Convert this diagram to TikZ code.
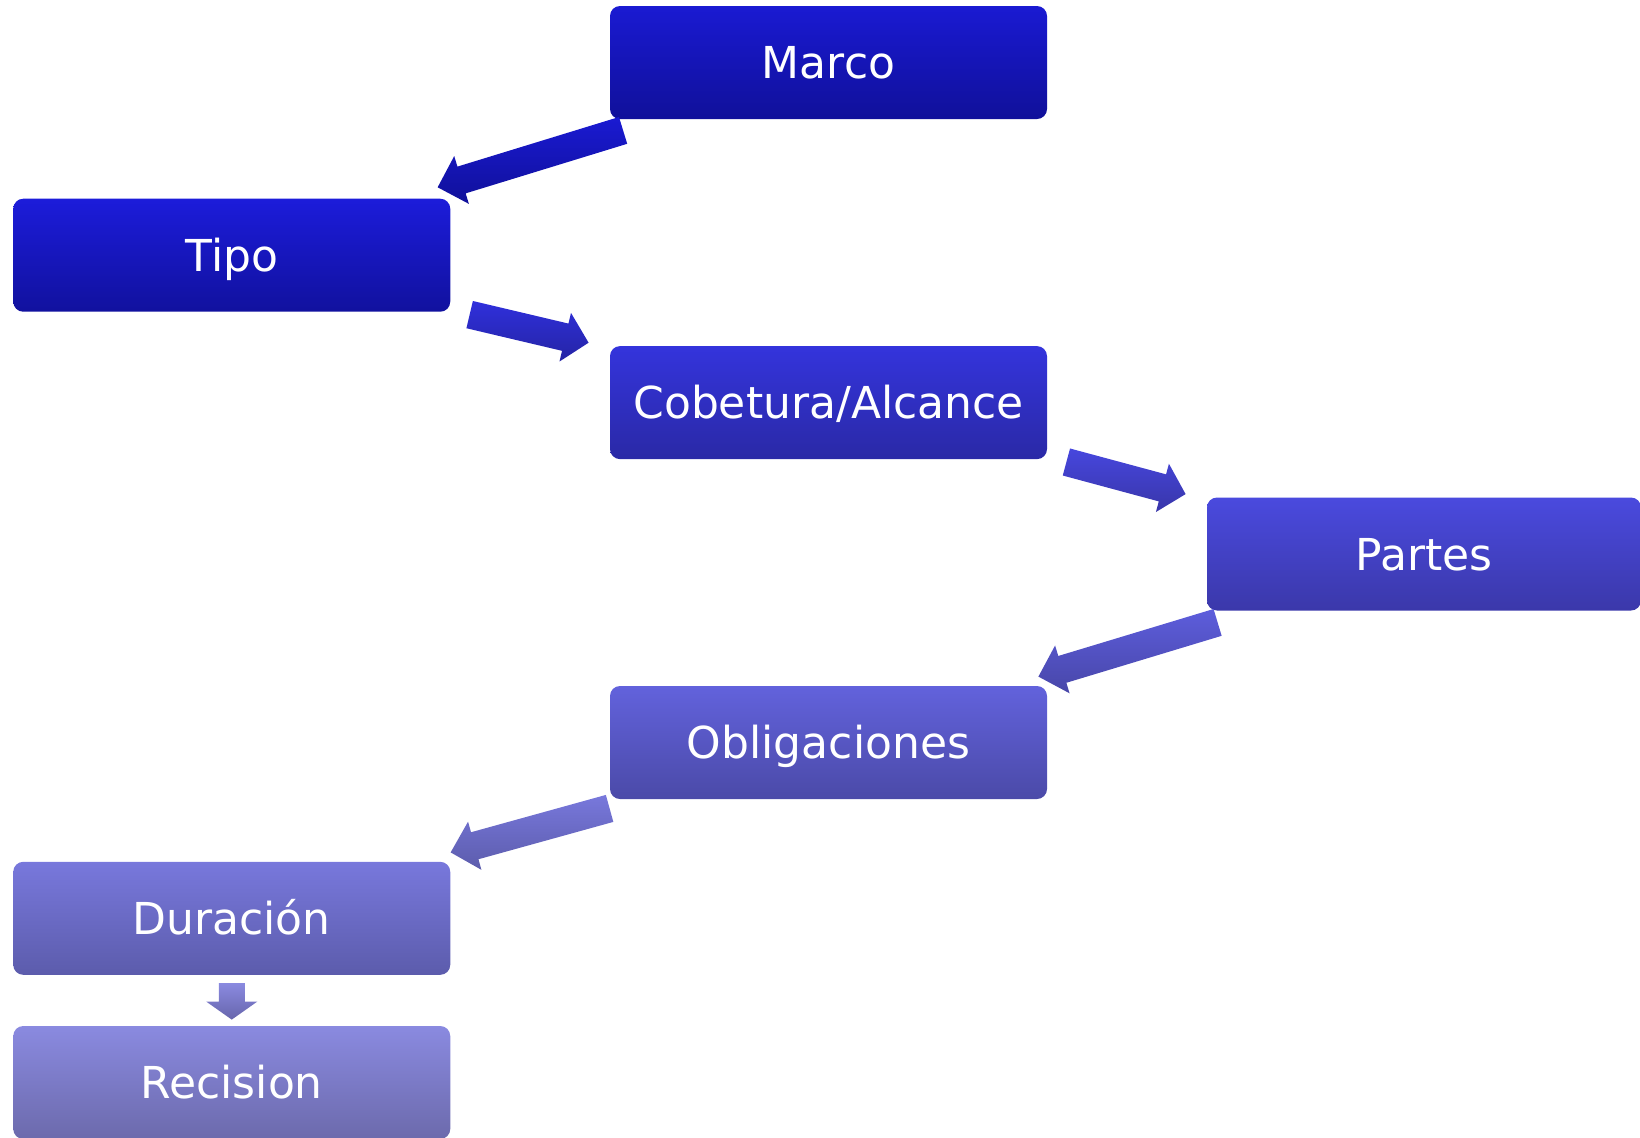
\documentclass[tikz,border=0pt]{standalone}
\usepackage{fontspec}
\setmainfont{DejaVu Sans}
\usetikzlibrary{calc}
\newcommand\blockarr[5]{%
  \coordinate (#3h) at ($(#2)!#4!(#1)$);
  \path[#5] ($(#1)!7pt!90:(#2)$) -- ($(#3h)!7pt!90:(#2)$) -- ($(#3h)!12.5pt!90:(#2)$) -- (#2)
     -- ($(#3h)!12.5pt!-90:(#2)$) -- ($(#3h)!7pt!-90:(#2)$) -- ($(#1)!7pt!-90:(#2)$) -- cycle;
}
\tikzset{
  box/.style={rectangle, rounded corners=5pt, minimum width=218.5pt, minimum height=56.5pt,
    inner sep=0pt, text=white, font=\fontsize{22}{26}\selectfont, text height=16pt, text depth=0pt},
}
\definecolor{c1t}{HTML}{1A1AD2}\definecolor{c1b}{HTML}{10109A}
\definecolor{c2t}{HTML}{1C1CDA}\definecolor{c2b}{HTML}{11119E}
\definecolor{c3t}{HTML}{3434DC}\definecolor{c3b}{HTML}{2A29A6}
\definecolor{c4t}{HTML}{4A4ADE}\definecolor{c4b}{HTML}{3B38AA}
\definecolor{c5t}{HTML}{6262DC}\definecolor{c5b}{HTML}{4B4AA8}
\definecolor{c6t}{HTML}{7878DC}\definecolor{c6b}{HTML}{5C5CAC}
\definecolor{c7t}{HTML}{8A8AE0}\definecolor{c7b}{HTML}{6C6AAC}
\begin{document}
\begin{tikzpicture}[x=0.5pt,y=-0.5pt]
\useasboundingbox (0,0) rectangle (1640,1137);
\node[box, top color=c1t, bottom color=c1b] (marco) at (828.5,62.5) {Marco};
\node[box, top color=c2t, bottom color=c2b] (tipo) at (231.75,255.2) {Tipo};
\node[box, top color=c3t, bottom color=c3b] (cob) at (828.5,402.6) {Cobetura/Alcance};
\node[box, top color=c4t, bottom color=c4b, minimum width=217pt] (partes) at (1424,554) {Partes};
\node[box, top color=c5t, bottom color=c5b] (oblig) at (828.5,742.5) {Obligaciones};
\node[box, top color=c6t, bottom color=c6b] (dur) at (231.75,918.3) {Duración};
\node[box, top color=c7t, bottom color=c7b] (rec) at (231.75,1082.5) {Recision};
% arrow end points
\coordinate (a1s) at ($(marco.south west)+(13.5,11)$);
\coordinate (a1e) at ($(tipo.north east)+(-13,-11)$);
\coordinate (a2s) at ($(tipo.south east)+(19,2.5)$);
\coordinate (a2e) at ($(cob.north west)+(-21,-3)$);
\coordinate (a3s) at ($(cob.south east)+(19,2.5)$);
\coordinate (a3e) at ($(partes.north west)+(-21,-3)$);
\coordinate (a4s) at ($(partes.south west)+(11,11.5)$);
\coordinate (a4e) at ($(oblig.north east)+(-9,-9)$);
\coordinate (a5s) at ($(oblig.south west)+(0,9)$);
\coordinate (a5e) at ($(dur.north east)+(0,-9)$);
\coordinate (a6s) at ($(dur.south)+(0,8)$);
\coordinate (a6e) at ($(rec.north)+(0,-6)$);
\blockarr{a1s}{a1e}{h1}{12.5pt}{top color=c1t, bottom color=c1b}
\blockarr{a2s}{a2e}{h2}{12pt}{top color=c3t!80!c2t, bottom color=c3b!80!c2b}
\blockarr{a3s}{a3e}{h3}{12pt}{top color=c4t!85!c3t, bottom color=c4b!85!c3b}
\blockarr{a4s}{a4e}{h4}{12.5pt}{top color=c5t!80!c4t, bottom color=c5b!80!c4b}
\blockarr{a5s}{a5e}{h5}{12.5pt}{top color=c6t, bottom color=c6b}
\path[top color=c7t, bottom color=c7b!70!c6b]
  ($(a6s)+(-13,0)$) -- ($(a6s)+(13,0)$) -- ($(a6e)+(13,-18)$) -- ($(a6e)+(25.5,-18)$) -- (a6e)
  -- ($(a6e)+(-25.5,-18)$) -- ($(a6e)+(-13,-18)$) -- cycle;
\end{tikzpicture}
\end{document}
